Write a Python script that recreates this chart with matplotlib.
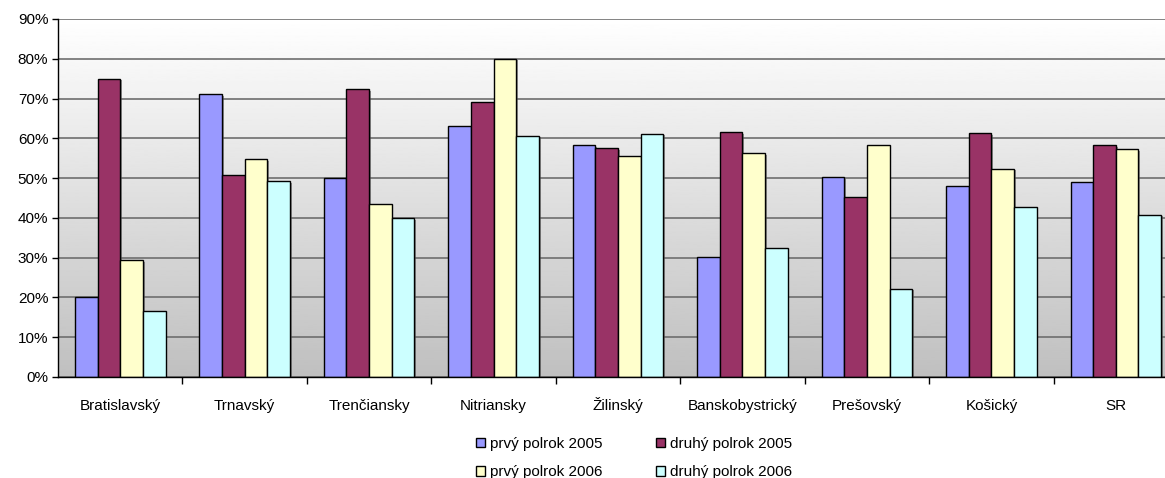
import numpy as np
import matplotlib.pyplot as plt
import matplotlib.patheffects as pe
from matplotlib.ticker import FuncFormatter

plt.rcParams["font.family"] = ["Liberation Sans", "DejaVu Sans"]

regions = ["Bratislavský", "Trnavský", "Trenčiansky", "Nitriansky", "Žilinský",
           "Banskobystrický", "Prešovský", "Košický", "SR"]
series_names = ["prvý polrok 2005", "druhý polrok 2005",
                "prvý polrok 2006", "druhý polrok 2006"]
h1_2005 = [20.0, 71.1, 50.0, 63.1, 58.3, 30.2, 50.3, 48.1, 49.1]
h2_2005 = [75.0, 50.7, 72.3, 69.1, 57.5, 61.6, 45.3, 61.3, 58.3]
h1_2006 = [29.3, 54.8, 43.4, 80.0, 55.6, 56.3, 58.3, 52.4, 57.2]
h2_2006 = [16.5, 49.2, 39.9, 60.7, 61.2, 32.5, 22.2, 42.8, 40.8]
colors = ["#9999FF", "#993366", "#FFFFCC", "#CCFFFF"]

fig = plt.figure(figsize=(11.65, 4.78), dpi=100)
ax = fig.add_axes([58 / 1165, 1 - 377 / 478, 1 - 58 / 1165, (377 - 19) / 478])

# gradient plot area background
grad = np.linspace(1.0, 0.75, 256).reshape(-1, 1)
ax.imshow(grad, cmap="gray", vmin=0, vmax=1, aspect="auto",
          extent=[0, 1, 0, 1], transform=ax.transAxes, zorder=0)

x = np.arange(len(regions))
w = 0.182
shadow = [pe.SimplePatchShadow(offset=(1.2, -1.2), shadow_rgbFace="#555555", alpha=0.6),
          pe.Normal()]
for i, (vals, name) in enumerate(zip([h1_2005, h2_2005, h1_2006, h2_2006], series_names)):
    bars = ax.bar(x + (i - 1.5) * w, vals, width=w, color=colors[i],
                  edgecolor="black", linewidth=1.0, label=name, zorder=3)
    for b in bars:
        b.set_path_effects(shadow)

ax.set_ylim(0, 90)
ax.set_xlim(-0.5, 8.395)
ax.set_yticks(np.arange(0, 91, 10))
ax.yaxis.set_major_formatter(FuncFormatter(lambda v, p: f"{v:.0f}%"))
ax.grid(axis="y", color="#6e6e6e", linewidth=1.2, zorder=1)
ax.set_axisbelow(True)

ax.set_xticks(x)
ax.set_xticklabels(regions)
ax.set_xticks(np.arange(0.5, 8.5, 1), minor=True)
ax.tick_params(axis="x", which="major", length=0, pad=24, labelsize=11)
ax.tick_params(axis="x", which="minor", length=5, direction="out", width=1)
ax.tick_params(axis="y", length=4, width=1, labelsize=11, pad=3)
for lbl in ax.get_xticklabels():
    lbl.set_verticalalignment("baseline")

for s in ["top", "right"]:
    ax.spines[s].set_visible(False)
for s in ["left", "bottom"]:
    ax.spines[s].set_color("black")
    ax.spines[s].set_linewidth(1.0)
    ax.spines[s].set_zorder(4)

handles, labels = ax.get_legend_handles_labels()
order = [0, 2, 1, 3]  # fill row by row
leg = fig.legend([handles[k] for k in order], [labels[k] for k in order],
                 loc="center", bbox_to_anchor=(634 / 1165, 1 - 458 / 478),
                 ncol=2, frameon=False, fontsize=11, handlelength=0.6, handleheight=0.6,
                 handletextpad=0.35, columnspacing=3.45, labelspacing=0.95)
for h in leg.legend_handles:
    h.set_path_effects([])

fig.savefig("out.png", dpi=100)
